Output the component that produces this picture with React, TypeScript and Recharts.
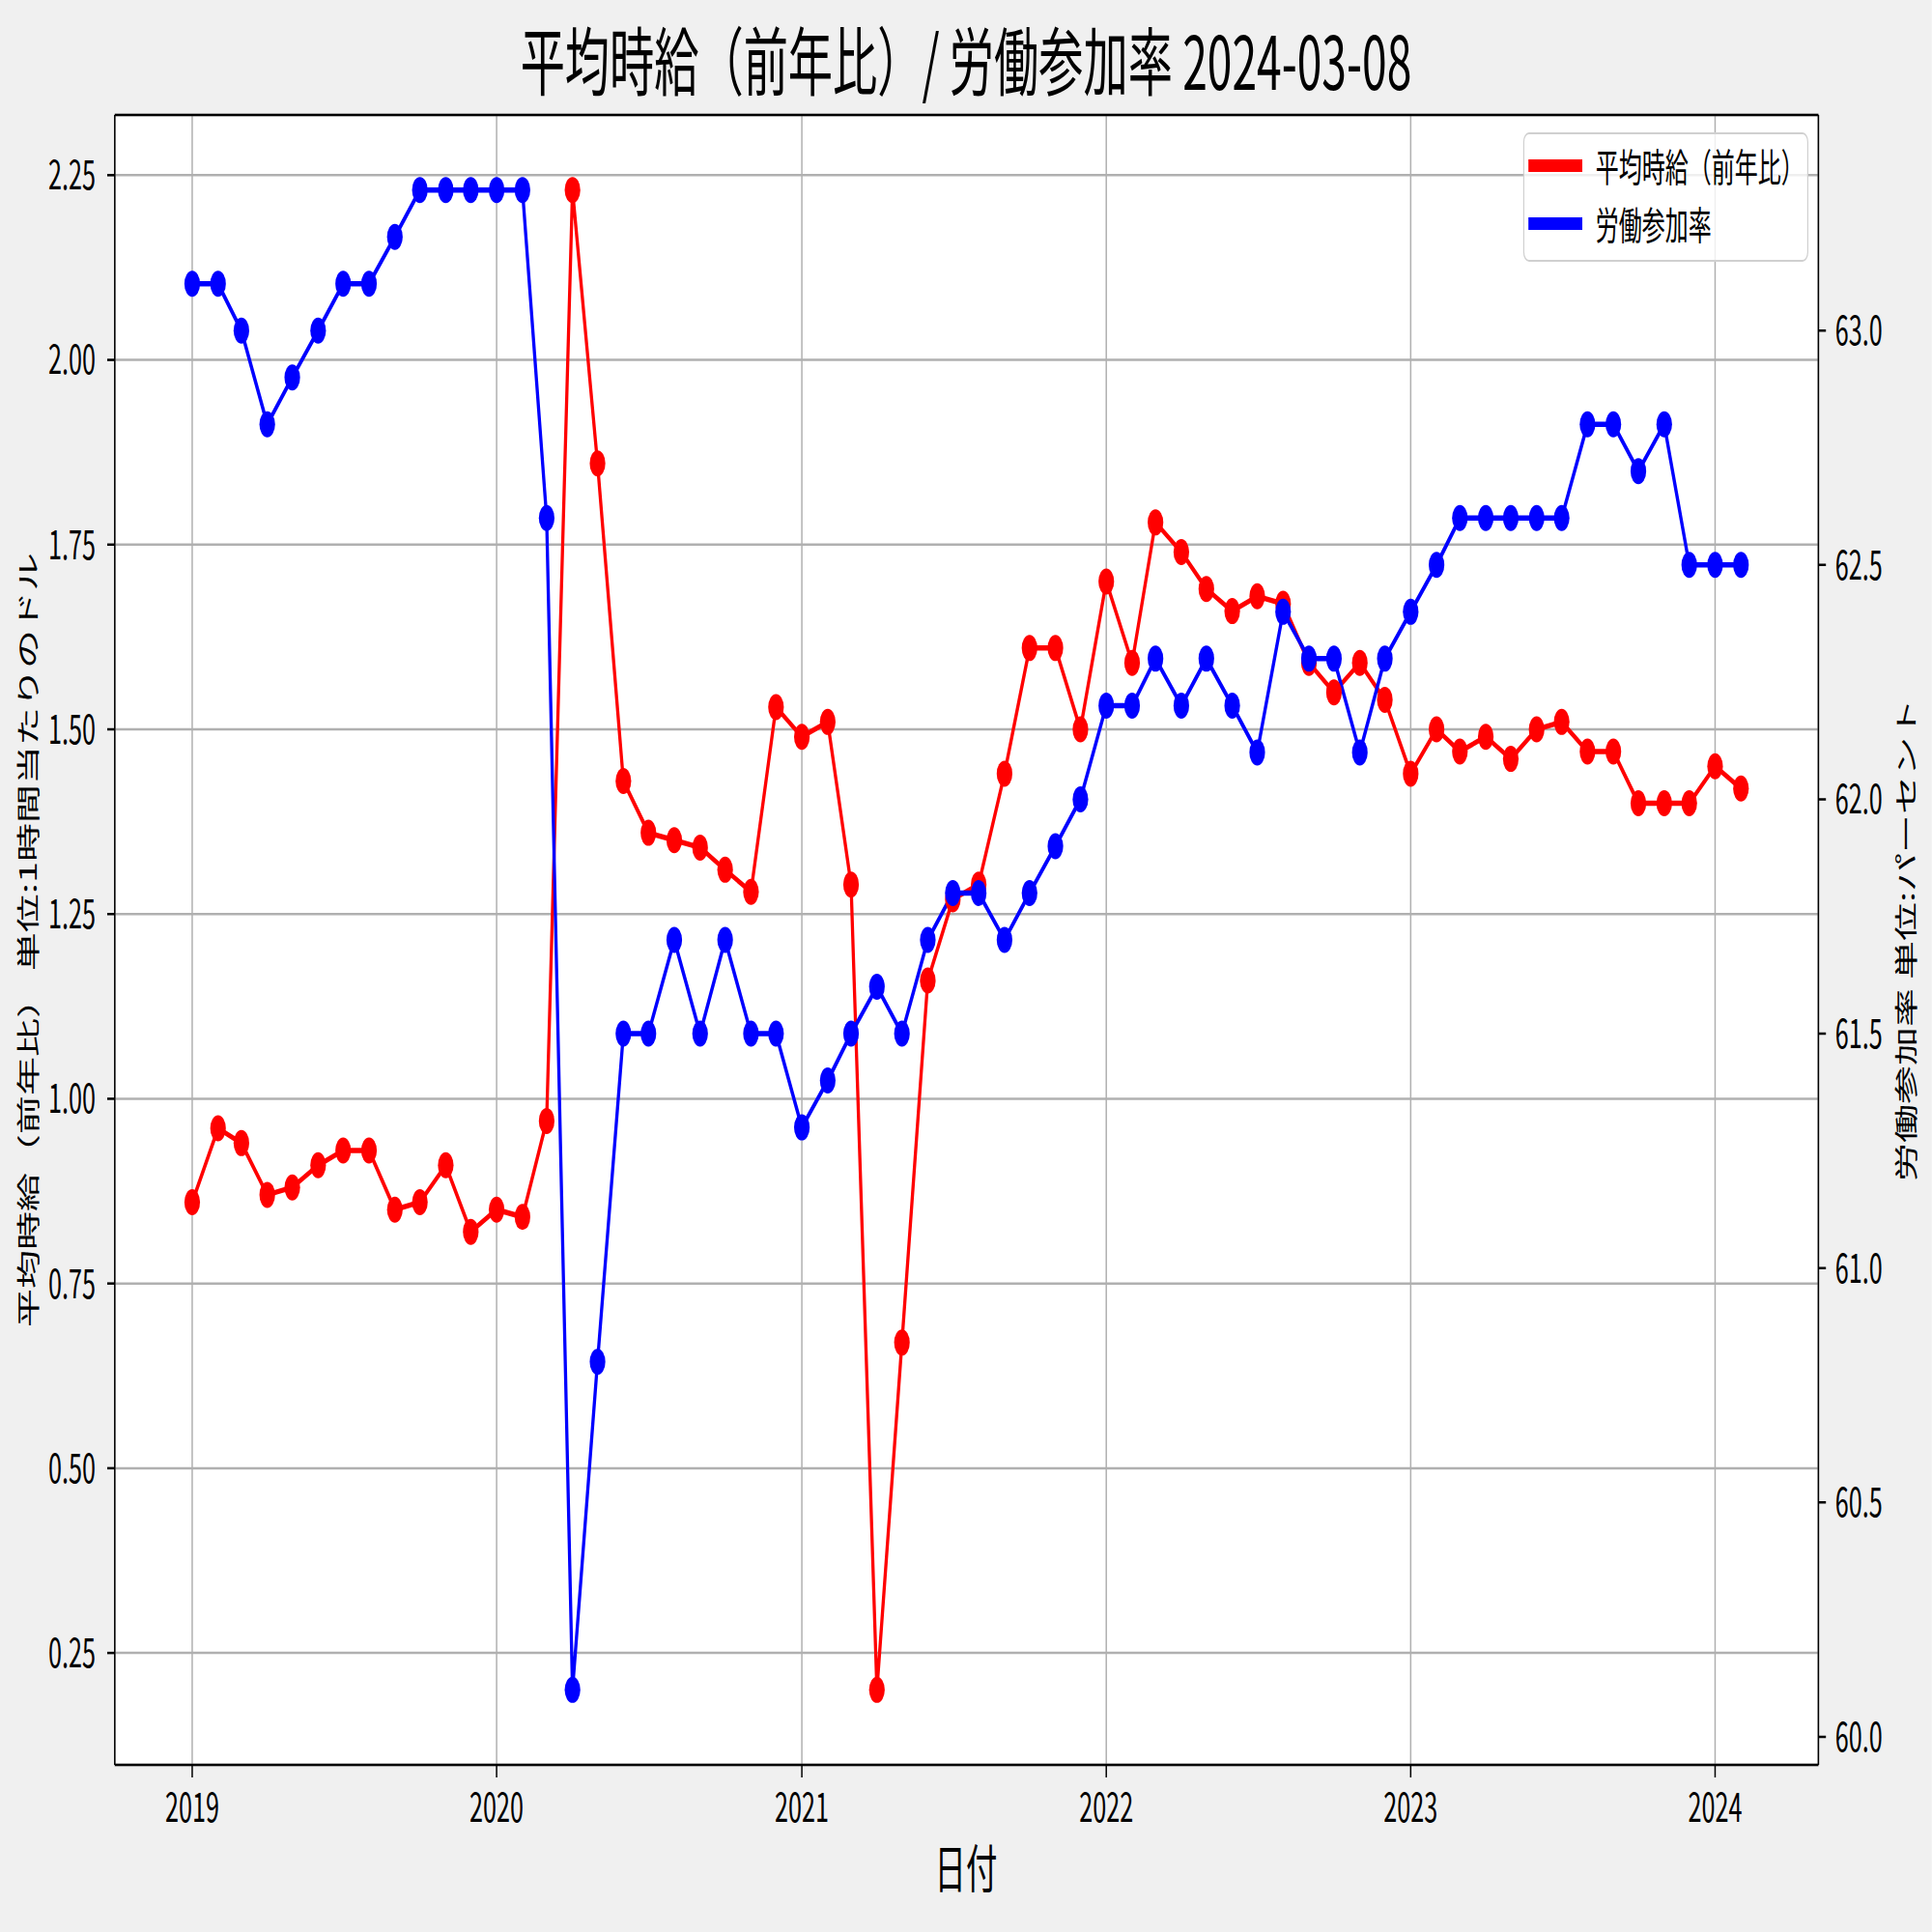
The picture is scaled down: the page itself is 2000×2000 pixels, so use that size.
import {
  LineChart,
  Line,
  XAxis,
  YAxis,
  CartesianGrid,
  ReferenceLine,
} from "recharts";

const months = [
  "2019-01", "2019-02", "2019-03", "2019-04", "2019-05", "2019-06",
  "2019-07", "2019-08", "2019-09", "2019-10", "2019-11", "2019-12",
  "2020-01", "2020-02", "2020-03", "2020-04", "2020-05", "2020-06",
  "2020-07", "2020-08", "2020-09", "2020-10", "2020-11", "2020-12",
  "2021-01", "2021-02", "2021-03", "2021-04", "2021-05", "2021-06",
  "2021-07", "2021-08", "2021-09", "2021-10", "2021-11", "2021-12",
  "2022-01", "2022-02", "2022-03", "2022-04", "2022-05", "2022-06",
  "2022-07", "2022-08", "2022-09", "2022-10", "2022-11", "2022-12",
  "2023-01", "2023-02", "2023-03", "2023-04", "2023-05", "2023-06",
  "2023-07", "2023-08", "2023-09", "2023-10", "2023-11", "2023-12",
  "2024-01", "2024-02",
];

// 平均時給（前年比）
const wageYoY = [
  0.86, 0.96, 0.94, 0.87, 0.88, 0.91, 0.93, 0.93, 0.85, 0.86, 0.91, 0.82,
  0.85, 0.84, 0.97, 2.23, 1.86, 1.43, 1.36, 1.35, 1.34, 1.31, 1.28, 1.53,
  1.49, 1.51, 1.29, 0.2, 0.67, 1.16, 1.27, 1.29, 1.44, 1.61, 1.61, 1.5,
  1.7, 1.59, 1.78, 1.74, 1.69, 1.66, 1.68, 1.67, 1.59, 1.55, 1.59, 1.54,
  1.44, 1.5, 1.47, 1.49, 1.46, 1.5, 1.51, 1.47, 1.47, 1.4, 1.4, 1.4,
  1.45, 1.42,
];

// 労働参加率
const participation = [
  63.1, 63.1, 63.0, 62.8, 62.9, 63.0, 63.1, 63.1, 63.2, 63.3, 63.3, 63.3,
  63.3, 63.3, 62.6, 60.1, 60.8, 61.5, 61.5, 61.7, 61.5, 61.7, 61.5, 61.5,
  61.3, 61.4, 61.5, 61.6, 61.5, 61.7, 61.8, 61.8, 61.7, 61.8, 61.9, 62.0,
  62.2, 62.2, 62.3, 62.2, 62.3, 62.2, 62.1, 62.4, 62.3, 62.3, 62.1, 62.3,
  62.4, 62.5, 62.6, 62.6, 62.6, 62.6, 62.6, 62.8, 62.8, 62.7, 62.8, 62.5,
  62.5, 62.5,
];

const yearTicks = [2019, 2020, 2021, 2022, 2023, 2024];
const wageTicks = [0.25, 0.5, 0.75, 1.0, 1.25, 1.5, 1.75, 2.0, 2.25];
const rateTicks = [60.0, 60.5, 61.0, 61.5, 62.0, 62.5, 63.0];

const seriesNames = ["平均時給（前年比）", "労働参加率"];
const seriesColors = ["#ff0000", "#0000ff"];

// the reference was squeezed sideways, so draw wide and squeeze the same way
const SQUASH = 0.6;
const W = 2000 / SQUASH;
const H = 2000;
const FONT = '"Noto Sans CJK JP", "Noto Sans", sans-serif';

const toTime = (m: string) => {
  const [y, mo] = m.split("-").map(Number);
  return Date.UTC(y, mo - 1, 1);
};

const data = months.map((m, i) => ({
  t: toTime(m),
  wage: wageYoY[i],
  rate: participation[i],
}));

// matplotlib style 5% margins
function padded(values: number[]): [number, number] {
  const lo = Math.min(...values);
  const hi = Math.max(...values);
  const pad = (hi - lo) * 0.05;
  return [lo - pad, hi + pad];
}

const xDomain = padded(data.map((d) => d.t));
const wageDomain = padded(wageYoY);
const rateDomain = padded(participation);
const xTicks = yearTicks.map((y) => Date.UTC(y, 0, 1));

const tickStyle = { fontSize: 42, fill: "#000", fontFamily: FONT };
const axisLine = { stroke: "#000", strokeWidth: 2.5 };

function LegendBox() {
  return (
    <div
      style={{
        position: "absolute",
        left: 2628,
        top: 137,
        width: 492,
        height: 134,
        boxSizing: "border-box",
        border: "2.5px solid #d0d0d0",
        borderRadius: 10,
        background: "rgba(255,255,255,0.8)",
        fontFamily: FONT,
      }}
    >
      {seriesNames.map((name, i) => (
        <div
          key={name}
          style={{
            position: "absolute",
            left: 7,
            top: 7 + i * 60,
            height: 50,
            display: "flex",
            alignItems: "center",
          }}
        >
          <div style={{ width: 93, height: 13, background: seriesColors[i] }} />
          <span style={{ marginLeft: 23, fontSize: 40, color: "#000", lineHeight: "50px", whiteSpace: "nowrap" }}>
            {name}
          </span>
        </div>
      ))}
    </div>
  );
}

export default function App() {
  return (
    <>
      <style>{"body{margin:0;overflow:hidden}"}</style>
      <div
        style={{
          position: "absolute",
          left: 0,
          top: 0,
          width: W,
          height: H,
          transform: `scaleX(${SQUASH})`,
          transformOrigin: "0 0",
          background: "#f0f0f0",
        }}
      >
        <LineChart
          width={W}
          height={H}
          data={data}
          margin={{ top: 119, right: 0, left: 0, bottom: 0 }}
        >
          <CartesianGrid
            yAxisId="left"
            fill="#ffffff"
            stroke="#b0b0b0"
            strokeWidth={2.5}
          />
          <XAxis
            dataKey="t"
            type="number"
            domain={xDomain}
            allowDataOverflow
            ticks={xTicks}
            tickFormatter={(v: number) => String(new Date(v).getUTCFullYear())}
            height={173}
            tickSize={13}
            tickMargin={16}
            tick={tickStyle}
            axisLine={axisLine}
            tickLine={axisLine}
          />
          <YAxis
            yAxisId="left"
            type="number"
            domain={wageDomain}
            allowDataOverflow
            ticks={wageTicks}
            tickFormatter={(v: number) => v.toFixed(2)}
            width={198}
            tickSize={13}
            tickMargin={20}
            tick={tickStyle}
            axisLine={axisLine}
            tickLine={axisLine}
          />
          <YAxis
            yAxisId="right"
            orientation="right"
            type="number"
            domain={rateDomain}
            allowDataOverflow
            ticks={rateTicks}
            tickFormatter={(v: number) => v.toFixed(1)}
            width={196}
            tickSize={13}
            tickMargin={16}
            tick={tickStyle}
            axisLine={axisLine}
            tickLine={axisLine}
          />
          <ReferenceLine
            yAxisId="left"
            y={wageDomain[1]}
            stroke="#000"
            strokeWidth={2.5}
          />
          <Line
            yAxisId="left"
            dataKey="wage"
            name={seriesNames[0]}
            stroke={seriesColors[0]}
            strokeWidth={5.5}
            dot={{ r: 13.5, fill: seriesColors[0], stroke: seriesColors[0], strokeWidth: 0 }}
            activeDot={false}
            isAnimationActive={false}
          />
          <Line
            yAxisId="right"
            dataKey="rate"
            name={seriesNames[1]}
            stroke={seriesColors[1]}
            strokeWidth={5.5}
            dot={{ r: 13.5, fill: seriesColors[1], stroke: seriesColors[1], strokeWidth: 0 }}
            activeDot={false}
            isAnimationActive={false}
          />
        </LineChart>
        <LegendBox />
        <svg
          width={W}
          height={H}
          style={{ position: "absolute", left: 0, top: 0, pointerEvents: "none" }}
          fontFamily={FONT}
        >
          <text x={W / 2} y={93} textAnchor="middle" fontSize={77} fill="#000">
            平均時給（前年比）/ 労働参加率 2024-03-08
          </text>
          <text x={W / 2} y={1955} textAnchor="middle" fontSize={54} fill="#000">
            日付
          </text>
          <text
            transform="translate(46,973) rotate(-90)"
            textAnchor="middle"
            dominantBaseline="central"
            fontSize={40}
            fill="#000"
          >
            平均時給（前年比） 単位:1時間当たりのドル
          </text>
          <text
            transform={`translate(${1971 / SQUASH},973) rotate(-90)`}
            textAnchor="middle"
            dominantBaseline="central"
            fontSize={40}
            fill="#000"
          >
            労働参加率 単位:パーセント
          </text>
        </svg>
      </div>
    </>
  );
}
